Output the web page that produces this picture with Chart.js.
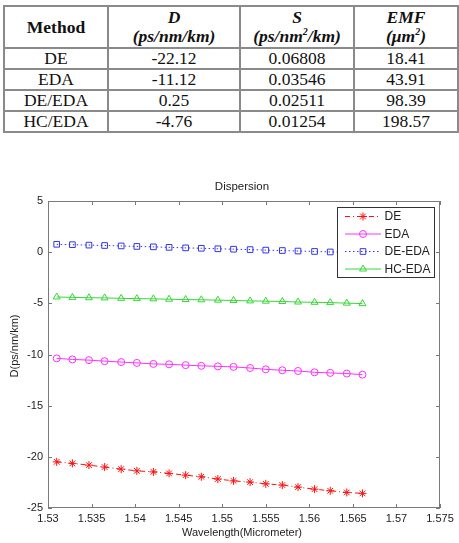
<!DOCTYPE html>
<html>
<head>
<meta charset="utf-8">
<script src="https://cdn.jsdelivr.net/npm/chart.js@4.4.1/dist/chart.umd.min.js"></script>
<style>
    html, body { margin: 0; padding: 0; background: #fff; }
    body { width: 459px; height: 543px; position: relative; overflow: hidden; }
    #summary-table {
        position: absolute; left: 3px; top: 5px; width: 454px;
        border-collapse: collapse; table-layout: fixed;
        font-family: "Liberation Serif", "Times New Roman", serif; font-size: 17.5px; color: #111;
    }
    #summary-table td, #summary-table th {
        border: 2px solid #8a8a8a; text-align: center; padding: 0; line-height: 19px; height: 19px;
    }
    #summary-table th { font-weight: bold; height: 40px; }
    #summary-table sup { font-size: 10px; line-height: 0; vertical-align: 7px; }
    #dispersion-chart { position: absolute; left: 0; top: 140px; }
</style>
</head>
<body>
<table id="summary-table">
    <colgroup><col style="width:104px"><col style="width:132px"><col style="width:114px"><col style="width:104px"></colgroup>
    <thead>
        <tr>
            <th>Method</th>
            <th><i>D</i><br><i>(ps/nm/km)</i></th>
            <th><i>S</i><br><i>(ps/nm<sup>2</sup>/km)</i></th>
            <th><i>EMF</i><br><i>(μm<sup>2</sup>)</i></th>
        </tr>
    </thead>
    <tbody></tbody>
</table>
<canvas id="dispersion-chart" width="459" height="403"></canvas>
<script>
// tabela
const methods = ['DE', 'EDA', 'DE/EDA', 'HC/EDA'];
const dispersionAt155 = ['-22.12', '-11.12', '0.25', '-4.76'];
const slopeValues = ['0.06808', '0.03546', '0.02511', '0.01254'];
const emfValues = ['18.41', '43.91', '98.39', '198.57'];

// grafico
const wavelength = [1.5310, 1.5328, 1.5347, 1.5365, 1.5384, 1.5402, 1.5421, 1.5439, 1.5458, 1.5476,
                    1.5495, 1.5513, 1.5532, 1.5550, 1.5569, 1.5587, 1.5606, 1.5624, 1.5643, 1.5661];
const dispersionDE = [-20.49, -20.64, -20.81, -21.00, -21.20, -21.37, -21.47, -21.62, -21.79, -21.95,
                      -22.17, -22.35, -22.47, -22.64, -22.76, -22.96, -23.16, -23.32, -23.48, -23.57];
const dispersionEDA = [-10.38, -10.48, -10.55, -10.65, -10.74, -10.82, -10.92, -10.96, -11.04, -11.11,
                       -11.16, -11.21, -11.32, -11.45, -11.54, -11.61, -11.74, -11.80, -11.86, -11.97];
const dispersionDEEDA = [0.77, 0.73, 0.69, 0.65, 0.61, 0.56, 0.52, 0.47, 0.42, 0.38,
                         0.33, 0.29, 0.25, 0.20, 0.16, 0.11, 0.07, 0.02, -0.02, -0.06];
const dispersionHCEDA = [-4.38, -4.42, -4.45, -4.47, -4.51, -4.54, -4.56, -4.60, -4.63, -4.65,
                         -4.69, -4.72, -4.76, -4.79, -4.82, -4.87, -4.90, -4.93, -4.98, -5.03];
const xTicks = { min: 1.53, max: 1.575, step: 0.005 };
const yTicks = { min: -25, max: 5, step: 5 };

const tbody = document.querySelector('#summary-table tbody');
methods.forEach((m, i) => {
    const row = tbody.insertRow();
    row.innerHTML = `<td>${m}</td><td>${dispersionAt155[i]}</td><td>${slopeValues[i]}</td><td>${emfValues[i]}</td>`;
});

const toPoints = ys => wavelength.map((x, i) => ({ x: x, y: ys[i] }));

const series = [
    { label: 'DE', data: dispersionDE, color: '#ff1010', dash: [5, 3, 1, 3], point: 'star', radius: 4 },
    { label: 'EDA', data: dispersionEDA, color: '#ff30ff', dash: [], point: 'circle', radius: 3.5 },
    { label: 'DE-EDA', data: dispersionDEEDA, color: '#3535e6', dash: [1.5, 2.5], point: 'rect', radius: 4 },
    { label: 'HC-EDA', data: dispersionHCEDA, color: '#36d836', dash: [], point: 'triangle', radius: 4 }
];

const FONT = '"Liberation Sans", Arial, sans-serif';

// eixos estilo matlab, titulos e legenda
const matlabFrame = {
    id: 'matlabFrame',
    afterDraw(chart) {
        const { ctx, chartArea: a, scales } = chart;
        ctx.save();
        ctx.strokeStyle = '#7a7a7a';
        ctx.lineWidth = 1;
        ctx.setLineDash([]);
        ctx.strokeRect(a.left + 0.5, a.top + 0.5, a.right - a.left - 1, a.bottom - a.top - 1);
        ctx.beginPath();
        scales.x.ticks.forEach(t => {
            const px = Math.round(scales.x.getPixelForValue(t.value)) + 0.5;
            ctx.moveTo(px, a.bottom); ctx.lineTo(px, a.bottom - 4);
            ctx.moveTo(px, a.top); ctx.lineTo(px, a.top + 4);
        });
        scales.y.ticks.forEach(t => {
            const py = Math.round(scales.y.getPixelForValue(t.value)) + 0.5;
            ctx.moveTo(a.left, py); ctx.lineTo(a.left + 4, py);
            ctx.moveTo(a.right, py); ctx.lineTo(a.right - 4, py);
        });
        ctx.stroke();

        ctx.fillStyle = '#222';
        ctx.textAlign = 'center';
        ctx.textBaseline = 'middle';
        ctx.font = '11.5px ' + FONT;
        ctx.fillText('Dispersion', (a.left + a.right) / 2 - 2, 47);
        ctx.font = '11px ' + FONT;
        ctx.fillText('Wavelength(Micrometer)', (a.left + a.right) / 2 - 2, 393);
        ctx.save();
        ctx.translate(15, 206);
        ctx.rotate(-Math.PI / 2);
        ctx.fillText('D(ps/nm/km)', 0, 0);
        ctx.restore();

        // legenda
        const box = { x: 337.5, y: 67.5, w: 97, h: 70 };
        ctx.fillStyle = '#fff';
        ctx.fillRect(box.x, box.y, box.w, box.h);
        ctx.strokeStyle = '#333';
        ctx.strokeRect(box.x, box.y, box.w, box.h);
        ctx.font = '12px ' + FONT;
        ctx.textAlign = 'left';
        chart.data.datasets.forEach((ds, i) => {
            const y = 76.5 + i * 17.5;
            ctx.strokeStyle = ds.borderColor;
            ctx.lineWidth = 1;
            ctx.setLineDash(ds.borderDash);
            ctx.beginPath();
            ctx.moveTo(345, y); ctx.lineTo(381, y);
            ctx.stroke();
            ctx.setLineDash([]);
            ctx.fillStyle = 'rgba(0,0,0,0)';
            Chart.helpers.drawPoint(ctx, { pointStyle: ds.pointStyle, radius: ds.pointRadius, rotation: 0, borderWidth: 1 }, 363, y);
            ctx.fillStyle = '#222';
            ctx.fillText(ds.label, 384.5, y + 0.5);
        });
        ctx.restore();
    }
};

new Chart(document.getElementById('dispersion-chart').getContext('2d'), {
    type: 'line',
    data: {
        datasets: series.map(s => ({
            label: s.label,
            data: toPoints(s.data),
            borderColor: s.color,
            borderWidth: 1,
            borderDash: s.dash,
            pointStyle: s.point,
            pointRadius: s.radius,
            pointBorderColor: s.color,
            pointBackgroundColor: 'rgba(0,0,0,0)',
            pointBorderWidth: 1,
            tension: 0,
            fill: false
        }))
    },
    options: {
        responsive: false,
        animation: false,
        devicePixelRatio: 1,
        layout: { padding: { top: 61, right: 19, left: 0, bottom: 0 } },
        plugins: { legend: { display: false }, title: { display: false }, tooltip: { enabled: false } },
        scales: {
            x: {
                type: 'linear',
                min: xTicks.min, max: xTicks.max,
                grid: { display: false, drawTicks: false },
                border: { display: false },
                ticks: {
                    stepSize: xTicks.step, autoSkip: false, maxRotation: 0, padding: 4,
                    color: '#222', font: { family: FONT, size: 11 },
                    callback: v => String(Math.round(v * 1000) / 1000)
                },
                afterFit: scale => { scale.height = 35; }
            },
            y: {
                min: yTicks.min, max: yTicks.max,
                grid: { display: false, drawTicks: false },
                border: { display: false },
                ticks: {
                    stepSize: yTicks.step, padding: 5,
                    color: '#222', font: { family: FONT, size: 11 },
                    callback: v => String(v)
                },
                afterFit: scale => { scale.width = 48; }
            }
        }
    },
    plugins: [matlabFrame]
});
</script>
</body>
</html>
